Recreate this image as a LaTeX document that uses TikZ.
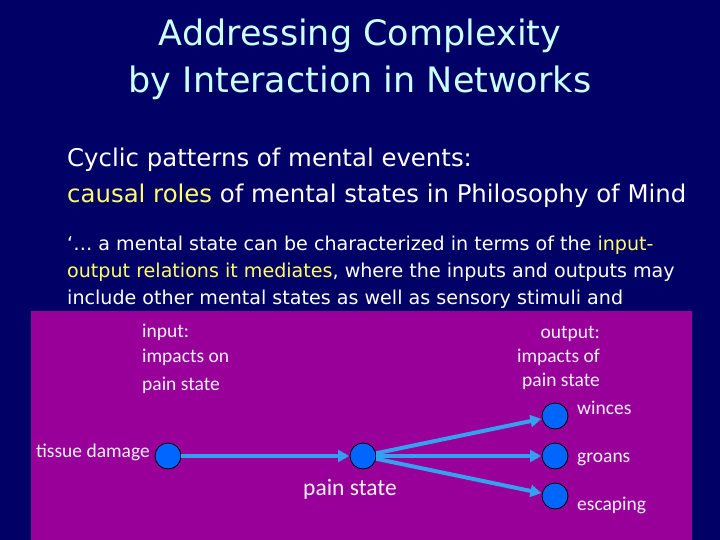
\documentclass[tikz,border=0pt]{standalone}
\usepackage{fontspec}
\usetikzlibrary{arrows.meta}
\newfontfamily\titlefont{DejaVu Sans}
\newfontfamily\bodyfont{DejaVu Sans}
\newfontfamily\boxfont{Carlito}
\definecolor{navy}{HTML}{000066}
\definecolor{boxpurple}{HTML}{990099}
\definecolor{titlecyan}{HTML}{CCFFFF}
\definecolor{hiyellow}{HTML}{FFFF66}
\definecolor{nodeblue}{HTML}{0066FF}
\definecolor{arrowblue}{HTML}{33A0F0}
\definecolor{labelwhite}{HTML}{F4F0FF}
\tikzset{
  titletext/.style={inner sep=0pt, text=titlecyan, font=\titlefont\fontsize{35}{40}\selectfont},
  bodytext/.style={inner sep=0pt, text=white, font=\bodyfont\fontsize{24.4}{28}\selectfont},
  quotetext/.style={inner sep=0pt, text=white, font=\bodyfont\fontsize{19.1}{23}\selectfont},
  lbl/.style={inner sep=0pt, text=labelwhite, font=\boxfont\fontsize{19.5}{22}\selectfont},
  biglbl/.style={inner sep=0pt, text=labelwhite, font=\boxfont\fontsize{23.5}{26}\selectfont},
  unit/.style={circle, draw=black, line width=0.8pt, fill=nodeblue, minimum size=26pt, inner sep=0pt},
  link/.style={draw=arrowblue, line width=4pt, -{Triangle[length=11pt,width=12pt]}, shorten >=0.5pt}
}
\begin{document}
\begin{tikzpicture}[x=1pt,y=-1pt]
\fill[navy] (0,0) rectangle (720,540);
\useasboundingbox (0,0) rectangle (720,540);
% title
\node[titletext, anchor=base] (t1) at (360,46) {Addressing Complexity};
\node[titletext, anchor=base] (t2) at (360,93) {by Interaction in Networks};
% body
\node[bodytext, anchor=base west] (b1) at (67,167) {Cyclic patterns of mental events:};
\node[bodytext, anchor=base west] (b2) at (67,203) {\textcolor{hiyellow}{causal roles} of mental states in Philosophy of Mind};
\node[quotetext, anchor=base west] (q1) at (67,250) {‘… a mental state can be characterized in terms of the \textcolor{hiyellow}{input-}};
\node[quotetext, anchor=base west] (q2) at (67,277) {\textcolor{hiyellow}{output relations it mediates}, where the inputs and outputs may};
\node[quotetext, anchor=base west] (q3) at (67,304) {include other mental states as well as sensory stimuli and};
% purple panel
\fill[boxpurple] (31,311) rectangle (692,540);
% labels
\node[lbl, anchor=base west] (i1) at (142,337) {input:};
\node[lbl, anchor=base west] (i2) at (142,362) {impacts on};
\node[lbl, anchor=base west] (i3) at (142,390) {pain state};
\node[lbl, anchor=base east] (o1) at (600,338) {output:};
\node[lbl, anchor=base east] (o2) at (600,362) {impacts of};
\node[lbl, anchor=base east] (o3) at (600,386) {pain state};
% nodes
\node[unit] (td) at (168,456) {};
\node[unit] (ps) at (363,456) {};
\node[unit] (wi) at (555,416) {};
\node[unit] (gr) at (555,456) {};
\node[unit] (es) at (555,496) {};
\node[lbl, anchor=base east] (tdl) at (150,457) {tissue damage};
\node[biglbl, anchor=base] (psl) at (350,495) {pain state};
\node[lbl, anchor=base west] (wil) at (577,414) {winces};
\node[lbl, anchor=base west] (grl) at (577,462) {groans};
\node[lbl, anchor=base west] (esl) at (577,510) {escaping};
% connectors
\draw[link] (td) -- (ps);
\draw[link] (ps) -- (wi);
\draw[link] (ps) -- (gr);
\draw[link] (ps) -- (es);
\end{tikzpicture}
\end{document}
